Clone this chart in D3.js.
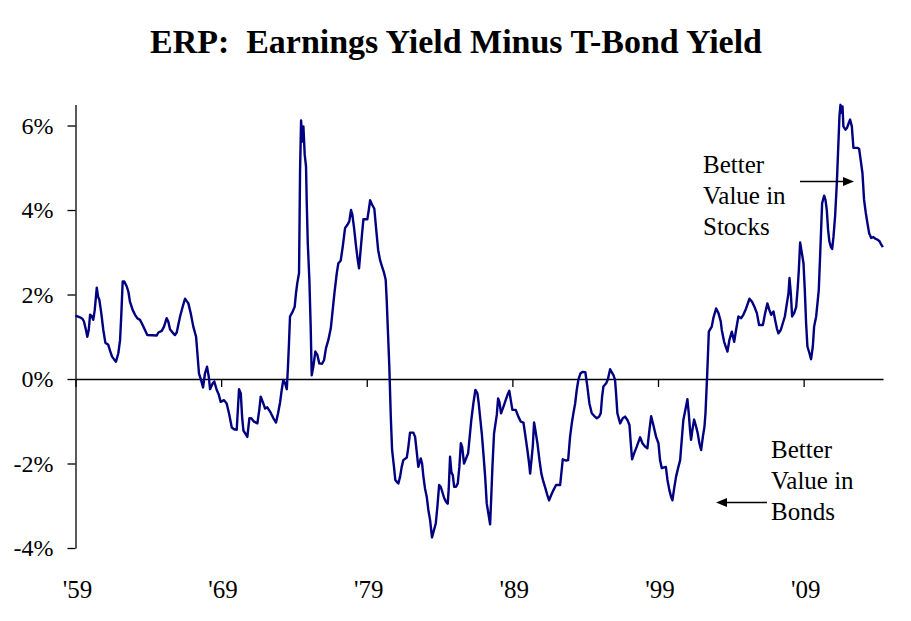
<!DOCTYPE html>
<html><head><meta charset="utf-8">
<script src="https://cdn.jsdelivr.net/npm/d3@7"></script>
<style>body{margin:0;background:#fff}svg{display:block}</style>
</head><body><svg id="c" width="911" height="621"></svg>
<script>
const years = [
1959.00,1959.31,1959.49,1959.58,1959.72,1959.81,1959.91,1960.00,1960.11,1960.22,1960.32,1960.46,1960.55,1960.64,1960.77,1960.91,1961.05,1961.25,1961.37,1961.51,1961.64,1961.78,1961.94,
1962.06,1962.15,1962.24,1962.35,1962.52,1962.63,1962.74,1962.93,1963.09,1963.24,1963.43,1963.61,1963.77,1963.93,1964.58,1964.69,1964.92,1965.08,1965.26,1965.37,1965.49,1965.72,1965.83,1965.95,
1966.18,1966.36,1966.52,1966.75,1966.91,1967.09,1967.28,1967.37,1967.48,1967.62,1967.76,1967.89,1968.03,1968.15,1968.24,1968.40,1968.53,1968.70,1968.83,1968.97,1969.20,1969.38,1969.54,1969.73,1969.89,
1970.07,1970.16,1970.23,1970.35,1970.44,1970.53,1970.66,1970.80,1970.94,1971.07,1971.26,1971.49,1971.62,1971.72,1971.86,1972.02,1972.17,1972.36,1972.59,1972.77,1972.91,1973.05,
1973.16,1973.27,1973.39,1973.51,1973.59,1973.66,1973.73,1973.92,1974.05,1974.14,1974.23,1974.35,1974.42,1974.49,1974.58,1974.65,1974.74,1974.83,1974.88,1974.95,1975.06,1975.15,1975.22,1975.33,1975.47,1975.61,1975.74,1975.93,
1976.07,1976.20,1976.36,1976.53,1976.66,1976.78,1976.94,1977.05,1977.21,1977.35,1977.51,1977.67,1977.80,1977.92,1978.01,1978.13,1978.27,1978.38,1978.47,1978.54,1978.68,1978.77,1979.04,1979.14,1979.23,1979.38,1979.52,1979.64,1979.78,1979.91,
1980.05,1980.19,1980.30,1980.37,1980.46,1980.55,1980.65,1980.74,1980.87,1980.96,1981.10,1981.17,1981.29,1981.40,1981.51,1981.75,1981.86,1981.97,1982.20,1982.32,1982.43,1982.54,1982.61,1982.71,1982.80,1982.89,
1983.00,1983.12,1983.23,1983.35,1983.48,1983.62,1983.74,1983.85,1983.97,1984.08,1984.22,1984.33,1984.45,1984.56,1984.63,1984.72,1984.81,1984.91,1985.00,1985.13,1985.25,1985.36,1985.46,1985.55,1985.68,1985.82,1985.96,
1986.09,1986.18,1986.32,1986.46,1986.60,1986.69,1986.78,1986.90,1987.01,1987.13,1987.24,1987.35,1987.47,1987.54,1987.63,1987.74,1987.86,1987.93,1988.02,1988.11,1988.22,1988.34,1988.50,1988.66,1988.79,1988.89,
1989.00,1989.23,1989.41,1989.58,1989.76,1989.87,1990.03,1990.15,1990.22,1990.31,1990.40,1990.49,1990.58,1990.72,1990.86,1990.99,1991.13,1991.27,1991.40,1991.52,1991.66,1991.82,1992.00,1992.28,1992.46,1992.69,1992.83,1992.96,
1993.08,1993.19,1993.31,1993.42,1993.53,1993.67,1993.83,1994.01,1994.15,1994.29,1994.45,1994.61,1994.80,1994.96,1995.07,1995.16,1995.25,1995.44,1995.55,1995.71,1995.94,1996.05,1996.12,1996.21,1996.40,1996.58,1996.74,1996.90,
1997.04,1997.13,1997.22,1997.36,1997.54,1997.77,1997.93,1998.11,1998.27,1998.41,1998.53,1998.68,1998.87,1999.03,1999.14,1999.26,1999.42,1999.54,1999.65,1999.78,1999.90,1999.99,2000.11,2000.24,2000.40,2000.52,2000.63,2000.74,2000.88,
2001.02,2001.11,2001.20,2001.27,2001.36,2001.48,2001.62,2001.73,2001.84,2001.96,2002.08,2002.19,2002.26,2002.32,2002.39,2002.49,2002.69,2002.80,2002.99,2003.15,2003.31,2003.38,2003.54,2003.77,2003.90,
2004.07,2004.23,2004.36,2004.52,2004.71,2004.86,2005.05,2005.28,2005.46,2005.62,2005.79,2005.94,2006.20,2006.36,2006.51,2006.65,2006.77,2006.93,2007.04,2007.16,2007.27,2007.43,2007.57,2007.71,2007.85,2007.96,
2008.03,2008.12,2008.21,2008.35,2008.49,2008.60,2008.67,2008.76,2008.88,2008.99,2009.08,2009.17,2009.26,2009.40,2009.51,2009.63,2009.72,2009.86,2009.95,2010.04,2010.13,2010.20,2010.27,2010.41,2010.50,2010.59,2010.68,2010.77,2010.87,2010.96,
2011.05,2011.16,2011.28,2011.37,2011.46,2011.53,2011.60,2011.67,2011.73,2011.87,2011.97,2012.10,2012.19,2012.31,2012.42,2012.69,2012.81,2012.93,2013.04,2013.15,2013.27,2013.38,2013.50,2013.64,2013.79,2013.93,2014.07,2014.21,2014.30,2014.44
];
const erp = [
1.50,1.46,1.42,1.36,1.16,1.00,1.16,1.52,1.49,1.40,1.63,2.16,1.95,1.87,1.56,1.16,0.86,0.81,0.67,0.53,0.47,0.41,0.61,
0.92,1.56,2.31,2.31,2.19,2.07,1.83,1.63,1.52,1.44,1.40,1.28,1.16,1.04,1.03,1.10,1.14,1.24,1.44,1.36,1.18,1.08,1.04,1.10,
1.48,1.71,1.90,1.79,1.56,1.24,1.00,0.61,0.13,-0.02,-0.20,0.13,0.29,0.06,-0.24,-0.12,-0.06,-0.26,-0.36,-0.54,-0.50,-0.58,-0.81,-1.15,-1.19,
-1.20,-0.66,-0.24,-0.34,-0.89,-1.22,-1.29,-1.37,-0.93,-0.93,-1.01,-1.05,-0.73,-0.42,-0.54,-0.70,-0.67,-0.77,-0.93,-1.03,-0.81,-0.55,
-0.26,-0.02,-0.10,-0.24,0.29,0.85,1.48,1.60,1.71,2.03,2.27,2.51,4.91,6.12,5.62,5.98,5.31,5.03,4.16,3.22,2.35,1.24,0.09,0.29,0.65,0.57,0.37,0.36,
0.45,0.73,0.92,1.20,1.63,2.03,2.50,2.74,2.80,3.13,3.57,3.65,3.73,4.00,3.89,3.57,3.13,2.82,2.62,2.90,3.45,3.78,3.78,4.00,4.23,4.12,4.03,3.57,3.06,2.82,
2.66,2.51,2.35,1.87,1.08,0.29,-0.89,-1.68,-2.08,-2.39,-2.45,-2.47,-2.31,-2.08,-1.92,-1.86,-1.60,-1.27,-1.27,-1.37,-1.72,-2.08,-2.00,-1.88,-2.00,-2.31,
-2.59,-2.79,-3.10,-3.34,-3.75,-3.57,-3.42,-3.02,-2.51,-2.55,-2.71,-2.83,-2.91,-2.95,-2.59,-1.84,-2.20,-2.28,-2.55,-2.55,-2.47,-2.08,-1.52,-1.60,-2.00,-1.88,-1.76,
-1.29,-0.97,-0.58,-0.26,-0.34,-0.58,-0.89,-1.29,-1.76,-2.31,-2.95,-3.18,-3.44,-2.87,-2.08,-1.29,-1.01,-0.85,-0.46,-0.54,-0.81,-0.70,-0.54,-0.38,-0.28,-0.50,
-0.73,-0.73,-0.89,-1.01,-1.03,-1.29,-1.68,-2.00,-2.24,-1.92,-1.60,-1.03,-1.21,-1.52,-1.92,-2.24,-2.43,-2.59,-2.75,-2.87,-2.75,-2.63,-2.51,-2.51,-1.90,-1.93,-1.92,-1.37,
-1.05,-0.81,-0.58,-0.26,-0.02,0.13,0.17,0.16,-0.18,-0.58,-0.81,-0.87,-0.93,-0.89,-0.81,-0.42,-0.18,-0.10,-0.02,0.23,0.09,-0.02,-0.34,-0.81,-1.05,-0.93,-0.89,-0.97,
-1.09,-1.52,-1.90,-1.76,-1.60,-1.38,-1.52,-1.60,-1.64,-1.21,-0.88,-1.09,-1.37,-1.52,-1.92,-2.11,-2.09,-2.08,-2.39,-2.63,-2.79,-2.87,-2.59,-2.31,-2.08,-1.92,-1.44,-0.97,-0.73,
-0.48,-0.81,-1.21,-1.44,-1.21,-0.96,-1.13,-1.29,-1.52,-1.68,-1.37,-1.13,-0.81,-0.34,0.21,1.12,1.24,1.44,1.67,1.56,1.36,1.16,0.88,0.65,0.92,
1.12,0.88,1.16,1.48,1.44,1.52,1.67,1.90,1.83,1.71,1.56,1.28,1.28,1.56,1.79,1.63,1.52,1.60,1.40,1.20,1.08,1.16,1.32,1.48,1.79,2.03,
2.39,2.03,1.48,1.56,1.71,2.19,2.58,3.23,2.98,2.74,2.11,1.32,0.77,0.61,0.47,0.77,1.24,1.48,1.79,2.11,2.90,3.53,4.16,4.34,4.24,4.00,3.53,3.25,3.13,3.08,
3.37,3.85,4.64,5.43,6.22,6.49,6.30,6.45,5.98,5.90,5.94,6.06,6.14,5.98,5.47,5.47,5.45,5.15,4.87,4.24,3.93,3.69,3.45,3.34,3.36,3.32,3.30,3.26,3.20,3.12
];
const yTicks = [-4, -2, 0, 2, 4, 6];
const decadeTicks = [1959, 1969, 1979, 1989, 1999, 2009];
const decadeLabels = ["'59", "'69", "'79", "'89", "'99", "'09"];
const titleText = "ERP:  Earnings Yield Minus T-Bond Yield";
const stocksNote = ["Better", "Value in", "Stocks"];
const bondsNote = ["Better", "Value in", "Bonds"];

const svg = d3.select("#c");
const serif = "'Liberation Serif','Times New Roman',serif";
const x = d3.scaleLinear().domain([1959, 2014.45]).range([75.5, 883]);
const y = d3.scaleLinear().domain([-4, 6.5]).range([548, 104.4]);

svg.append("rect").attr("width", 911).attr("height", 621).attr("fill", "#fff");

// title
svg.append("text").attr("x", 456).attr("y", 53).attr("text-anchor", "middle")
  .attr("font-family", serif).attr("font-weight", "bold").attr("font-size", 33)
  .attr("textLength", 612).attr("lengthAdjust", "spacingAndGlyphs")
  .style("white-space", "pre").text(titleText);

// y axis
const yAxis = svg.append("g").attr("transform", "translate(75.5,0)")
  .call(d3.axisLeft(y).tickValues(yTicks).tickSize(8).tickSizeOuter(0).tickPadding(14)
    .tickFormat(d => d + "%"));
yAxis.attr("font-family", serif);
yAxis.selectAll("path,line").attr("stroke", "#000").attr("stroke-width", 1.3);
yAxis.selectAll("text").attr("font-family", serif).attr("font-size", 24).attr("fill", "#000");

// zero line with decade ticks
const xAxis = svg.append("g").attr("transform", `translate(0,${y(0)})`)
  .call(d3.axisBottom(x).tickValues(decadeTicks).tickSize(8).tickSizeOuter(0).tickFormat(""));
xAxis.selectAll("path,line").attr("stroke", "#000").attr("stroke-width", 1.3);

// decade labels
svg.append("g").selectAll("text").data(decadeTicks).join("text")
  .attr("x", d => x(d) + 2).attr("y", 598).attr("text-anchor", "middle")
  .attr("font-family", serif).attr("font-size", 25).attr("fill", "#000")
  .text((d, i) => decadeLabels[i]);

// series line
const pts = years.map((yr, i) => [yr, erp[i]]);
svg.append("path").datum(pts)
  .attr("fill", "none").attr("stroke", "#000080").attr("stroke-width", 2.4)
  .attr("stroke-linejoin", "round")
  .attr("d", d3.line().x(d => x(d[0])).y(d => y(d[1])));

// annotations
function note(lines, x0, y0) {
  svg.append("g").selectAll("text").data(lines).join("text")
    .attr("x", x0).attr("y", (d, i) => y0 + i * 31)
    .attr("font-family", serif).attr("font-size", 25).attr("fill", "#000")
    .text(d => d);
}
note(stocksNote, 703, 173);
note(bondsNote, 771, 458);

function arrow(x1, x2, yy) {
  const dir = Math.sign(x2 - x1);
  svg.append("line").attr("x1", x1).attr("x2", x2 - dir * 9).attr("y1", yy).attr("y2", yy)
    .attr("stroke", "#000").attr("stroke-width", 1.3);
  svg.append("path")
    .attr("d", `M${x2},${yy} L${x2 - dir * 11},${yy - 4.5} L${x2 - dir * 11},${yy + 4.5} Z`)
    .attr("fill", "#000");
}
arrow(800, 854, 181.5);
arrow(767, 716, 502.5);
</script>
</body></html>
